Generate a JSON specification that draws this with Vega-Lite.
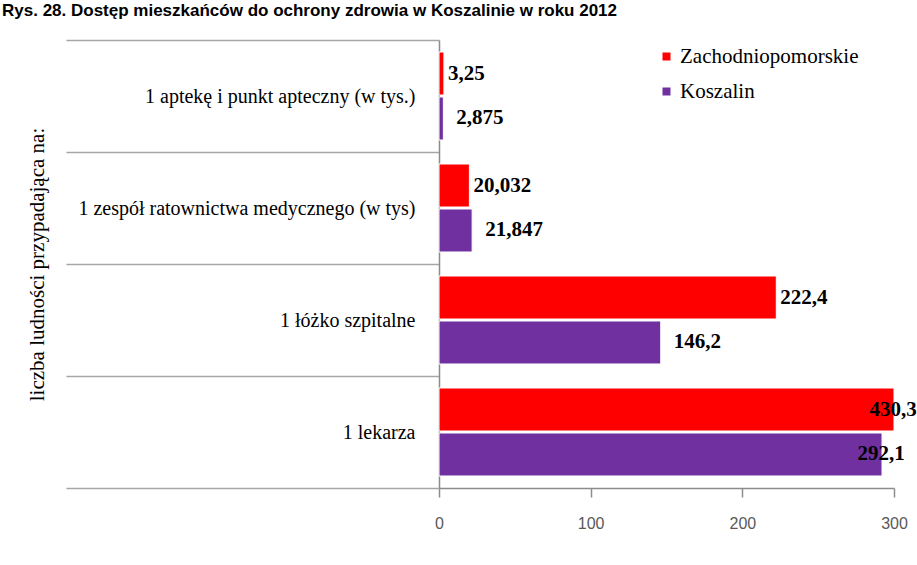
{
  "$schema": "https://vega.github.io/schema/vega-lite/v6.json",
  "autosize": {"type": "none"},
  "width": 455,
  "height": 448,
  "padding": {"left": 439, "top": 40, "right": 23, "bottom": 77},
  "background": "white",
  "title": {
    "text": "Rys. 28. Dostęp mieszkańców do ochrony zdrowia w Koszalinie w roku 2012",
    "anchor": "start",
    "frame": "group",
    "dx": -437,
    "offset": -3,
    "baseline": "alphabetic",
    "font": "Liberation Sans",
    "fontSize": 17,
    "fontWeight": "bold",
    "color": "#000000"
  },
  "data": {
    "values": [
      {"kategoria": "1 aptekę i punkt apteczny (w tys.)", "seria": "Zachodniopomorskie", "wartosc": 3.25, "etykieta": "3,25"},
      {"kategoria": "1 aptekę i punkt apteczny (w tys.)", "seria": "Koszalin", "wartosc": 2.875, "etykieta": "2,875"},
      {"kategoria": "1 zespół ratownictwa medycznego (w tys)", "seria": "Zachodniopomorskie", "wartosc": 20.032, "etykieta": "20,032"},
      {"kategoria": "1 zespół ratownictwa medycznego (w tys)", "seria": "Koszalin", "wartosc": 21.847, "etykieta": "21,847"},
      {"kategoria": "1 łóżko szpitalne", "seria": "Zachodniopomorskie", "wartosc": 222.4, "etykieta": "222,4"},
      {"kategoria": "1 łóżko szpitalne", "seria": "Koszalin", "wartosc": 146.2, "etykieta": "146,2"},
      {"kategoria": "1 lekarza", "seria": "Zachodniopomorskie", "wartosc": 430.3, "etykieta": "430,3"},
      {"kategoria": "1 lekarza", "seria": "Koszalin", "wartosc": 292.1, "etykieta": "292,1"}
    ]
  },
  "encoding": {
    "y": {
      "field": "kategoria",
      "type": "nominal",
      "sort": null,
      "scale": {"paddingInner": 0, "paddingOuter": 0},
      "axis": {
        "title": "liczba ludności przypadająca na:",
        "titleFont": "Liberation Serif",
        "titleFontSize": 21,
        "titleFontWeight": "normal",
        "titleColor": "#000000",
        "titleAngle": -90,
        "titleX": -402,
        "titleY": 224,
        "titleAlign": "center",
        "titleBaseline": "middle",
        "domain": true,
        "domainColor": "#8c8c8c",
        "domainWidth": 1.5,
        "ticks": true,
        "tickBand": "extent",
        "tickSize": 373,
        "tickColor": "#a6a6a6",
        "tickWidth": 1.5,
        "labelPadding": -349,
        "labelAlign": "right",
        "labelFont": "Liberation Serif",
        "labelFontSize": 20,
        "labelColor": "#000000",
        "labelLimit": 0
      }
    },
    "x": {
      "field": "wartosc",
      "type": "quantitative",
      "scale": {"domain": [0, 300], "clamp": true, "nice": false},
      "axis": {
        "title": null,
        "values": [0, 100, 200, 300],
        "grid": false,
        "labelFlush": false,
        "labelOverlap": false,
        "domainColor": "#8c8c8c",
        "domainWidth": 1.5,
        "tickSize": 9,
        "tickColor": "#8c8c8c",
        "tickWidth": 1.5,
        "labelFont": "Liberation Sans",
        "labelFontSize": 16,
        "labelColor": "#595959",
        "labelPadding": 18
      }
    },
    "yOffset": {
      "field": "seria",
      "type": "nominal",
      "sort": ["Zachodniopomorskie", "Koszalin"],
      "scale": {"paddingInner": 0.044, "paddingOuter": 0.267}
    }
  },
  "layer": [
    {
      "mark": {"type": "bar", "stroke": "#ffffff", "strokeWidth": 1},
      "encoding": {
        "color": {
          "field": "seria",
          "type": "nominal",
          "sort": ["Zachodniopomorskie", "Koszalin"],
          "scale": {"domain": ["Zachodniopomorskie", "Koszalin"], "range": ["#ff0000", "#7030a0"]},
          "legend": {
            "title": null,
            "orient": "none",
            "legendX": 217,
            "legendY": 6,
            "direction": "vertical",
            "symbolType": "square",
            "symbolSize": 64,
            "symbolStrokeWidth": 0,
            "labelFont": "Liberation Serif",
            "labelFontSize": 21,
            "labelColor": "#000000",
            "labelOffset": 3,
            "rowPadding": 13,
            "labelLimit": 0
          }
        }
      }
    },
    {
      "transform": [{"filter": "datum.wartosc < 250 && datum.seria == 'Zachodniopomorskie'"}],
      "mark": {"type": "text", "align": "left", "baseline": "middle", "dx": 4, "font": "Liberation Serif", "fontSize": 21, "fontWeight": "bold", "color": "#000000"},
      "encoding": {"text": {"field": "etykieta"}}
    },
    {
      "transform": [{"filter": "datum.wartosc < 250 && datum.seria == 'Koszalin'"}],
      "mark": {"type": "text", "align": "left", "baseline": "middle", "dx": 13, "font": "Liberation Serif", "fontSize": 21, "fontWeight": "bold", "color": "#000000"},
      "encoding": {"text": {"field": "etykieta"}}
    },
    {
      "transform": [{"filter": "datum.wartosc >= 250"}],
      "mark": {"type": "text", "align": "center", "baseline": "middle", "dx": -1, "font": "Liberation Serif", "fontSize": 21, "fontWeight": "bold", "color": "#000000"},
      "encoding": {"text": {"field": "etykieta"}}
    }
  ],
  "config": {
    "view": {"stroke": null}
  }
}
